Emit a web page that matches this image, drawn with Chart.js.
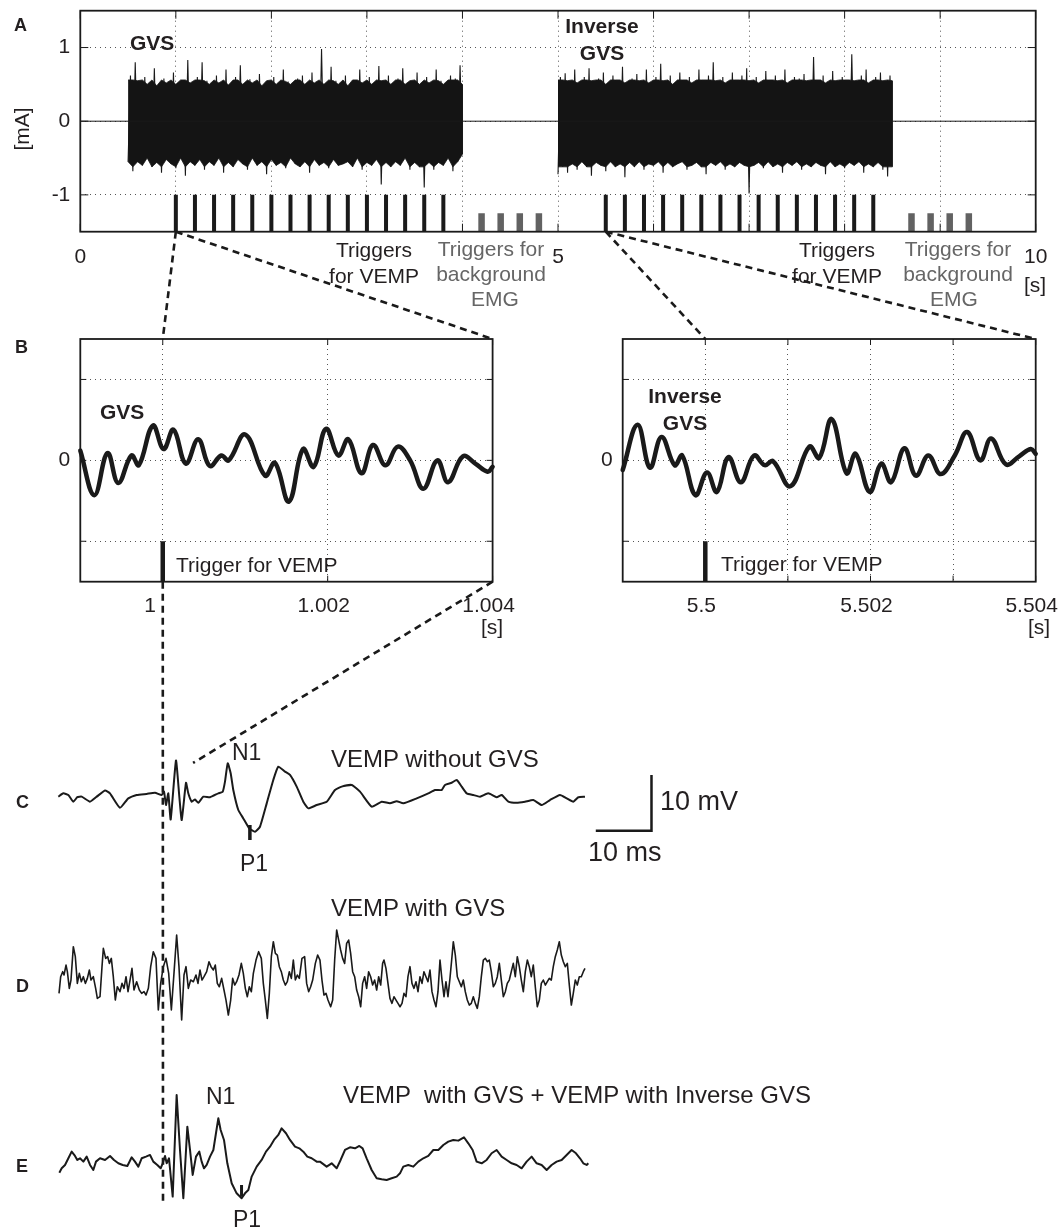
<!DOCTYPE html>
<html>
<head>
<meta charset="utf-8">
<title>GVS / VEMP</title>
<script src="https://cdn.jsdelivr.net/npm/chart.js@4.4.1/dist/chart.umd.min.js"></script>
<style>
  html, body { margin: 0; padding: 0; background: #fff; }
  body { width: 1060px; height: 1229px; position: relative; overflow: hidden; }
  canvas { position: absolute; }
  #overlay { position: absolute; left: 0; top: 0; z-index: 5; }
  #overlay text { font-family: "Liberation Sans", Arial, Helvetica, sans-serif; fill: #231f20; white-space: pre; }
  #overlay .b { font-weight: bold; }
  #overlay .grey { fill: #666; }
</style>
</head>
<body>
<canvas id="chartA" width="1060" height="300" style="left:0;top:0"></canvas>
<canvas id="chartB1" width="540" height="330" style="left:0;top:320px"></canvas>
<canvas id="chartB2" width="540" height="330" style="left:540px;top:320px"></canvas>
<canvas id="chartC" width="1060" height="200" style="left:0;top:700px"></canvas>
<canvas id="chartD" width="1060" height="200" style="left:0;top:880px"></canvas>
<canvas id="chartE" width="1060" height="229" style="left:0;top:1029px"></canvas>

<svg id="overlay" width="1060" height="1229" xmlns="http://www.w3.org/2000/svg">
  <g id="connectors"></g>
  <!-- A -->
  <text class="b" x="14" y="31" font-size="18">A</text>
  <text transform="translate(29,129) rotate(-90)" text-anchor="middle" font-size="21">[mA]</text>
  <text class="b" x="130" y="50" font-size="21">GVS</text>
  <text class="b" x="602" y="33" font-size="21" text-anchor="middle">Inverse</text>
  <text class="b" x="602" y="60" font-size="21" text-anchor="middle">GVS</text>
  <text x="374" y="257" font-size="21" text-anchor="middle">Triggers</text>
  <text x="374" y="283" font-size="21" text-anchor="middle">for VEMP</text>
  <text class="grey" x="491" y="256" font-size="21" text-anchor="middle">Triggers for</text>
  <text class="grey" x="491" y="281" font-size="21" text-anchor="middle">background</text>
  <text class="grey" x="495" y="306" font-size="21" text-anchor="middle">EMG</text>
  <text x="837" y="257" font-size="21" text-anchor="middle">Triggers</text>
  <text x="837" y="283" font-size="21" text-anchor="middle">for VEMP</text>
  <text class="grey" x="958" y="256" font-size="21" text-anchor="middle">Triggers for</text>
  <text class="grey" x="958" y="281" font-size="21" text-anchor="middle">background</text>
  <text class="grey" x="954" y="306" font-size="21" text-anchor="middle">EMG</text>
  <text x="1035" y="292" font-size="21" text-anchor="middle">[s]</text>
  <!-- B -->
  <text class="b" x="15" y="353" font-size="18">B</text>
  <text class="b" x="100" y="419" font-size="21">GVS</text>
  <text x="176" y="572" font-size="21">Trigger for VEMP</text>
  <text x="492" y="634" font-size="21" text-anchor="middle">[s]</text>
  <text class="b" x="685" y="403" font-size="21" text-anchor="middle">Inverse</text>
  <text class="b" x="685" y="430" font-size="21" text-anchor="middle">GVS</text>
  <text x="721" y="571" font-size="21">Trigger for VEMP</text>
  <text x="1039" y="634" font-size="21" text-anchor="middle">[s]</text>
  <!-- C -->
  <text class="b" x="16" y="808" font-size="18">C</text>
  <text x="232" y="760" font-size="23">N1</text>
  <text x="331" y="767" font-size="24">VEMP without GVS</text>
  <text x="660" y="810" font-size="27">10 mV</text>
  <text x="588" y="861" font-size="27">10 ms</text>
  <text x="240" y="871" font-size="23">P1</text>
  <!-- D -->
  <text class="b" x="16" y="992" font-size="18">D</text>
  <text x="331" y="916" font-size="24">VEMP with GVS</text>
  <!-- E -->
  <text class="b" x="16" y="1172" font-size="18">E</text>
  <text x="206" y="1104" font-size="23">N1</text>
  <text x="343" y="1103" font-size="24">VEMP  with GVS + VEMP with Inverse GVS</text>
  <text x="233" y="1227" font-size="23">P1</text>
</svg>

<script>
// ---- Panel A: stimulation current [mA] over time [s] ----
const aTicksX = [0, 1, 2, 3, 4, 5, 6, 7, 8, 9, 10];
const aLabelsX = [0, 5, 10];
const aTicksY = [-1, 0, 1];

// current is zero outside the stimulation windows
const baselineTime = [0, 10];
const baselineCurrent = [0, 0];

// peak envelope of the noise (samples every 0.05 s); the solid part stops at denseLimit
const denseLimit = [0.56, -0.62];
const gvsWindow = [0.5, 4.0];
const gvsUpper = [0.62, 0.80, 0.55, 0.60, 0.50, 0.72, 0.48, 0.58, 0.52, 0.66,
  0.50, 0.56, 0.83, 0.52, 0.60, 0.80, 0.55, 0.50, 0.62, 0.52,
  0.70, 0.49, 0.60, 0.76, 0.50, 0.57, 0.52, 0.64, 0.48, 0.55,
  0.60, 0.50, 0.70, 0.54, 0.50, 0.58, 0.62, 0.50, 0.66, 0.52,
  0.98, 0.50, 0.74, 0.55, 0.50, 0.62, 0.48, 0.56, 0.70, 0.52,
  0.60, 0.50, 0.75, 0.55, 0.62, 0.50, 0.58, 0.72, 0.50, 0.55,
  0.66, 0.50, 0.60, 0.52, 0.70, 0.55, 0.50, 0.62, 0.58, 0.76, 0.50];
const gvsLower = [-0.55, -0.68, -0.55, -0.60, -0.50, -0.62, -0.56, -0.70, -0.52, -0.58,
  -0.64, -0.50, -0.74, -0.55, -0.60, -0.52, -0.66, -0.55, -0.60, -0.50,
  -0.70, -0.56, -0.62, -0.52, -0.58, -0.66, -0.50, -0.60, -0.55, -0.72,
  -0.52, -0.60, -0.56, -0.64, -0.50, -0.58, -0.62, -0.55, -0.70, -0.52,
  -0.60, -0.56, -0.64, -0.52, -0.60, -0.58, -0.55, -0.62, -0.50, -0.66,
  -0.56, -0.60, -0.52, -0.86, -0.56, -0.62, -0.55, -0.60, -0.50, -0.66,
  -0.56, -0.62, -0.90, -0.56, -0.66, -0.56, -0.60, -0.50, -0.68, -0.55, -0.45];

const invWindow = [5.0, 8.5];
const invUpper = [0.60, 0.65, 0.55, 0.70, 0.52, 0.60, 0.72, 0.55, 0.58, 0.66,
  0.50, 0.62, 0.56, 0.74, 0.52, 0.58, 0.64, 0.55, 0.70, 0.52,
  0.60, 0.78, 0.55, 0.62, 0.50, 0.66, 0.56, 0.60, 0.52, 0.70,
  0.56, 0.62, 0.80, 0.55, 0.60, 0.52, 0.66, 0.56, 0.62, 0.72,
  0.55, 0.60, 0.52, 0.68, 0.56, 0.62, 0.55, 0.70, 0.52, 0.60,
  0.58, 0.64, 0.55, 0.87, 0.56, 0.62, 0.52, 0.68, 0.55, 0.60,
  0.56, 0.91, 0.55, 0.62, 0.70, 0.52, 0.60, 0.66, 0.55, 0.62, 0.55];
const invLower = [-0.72, -0.62, -0.70, -0.58, -0.66, -0.55, -0.62, -0.74, -0.56, -0.60,
  -0.68, -0.55, -0.62, -0.58, -0.76, -0.56, -0.62, -0.55, -0.66, -0.58,
  -0.60, -0.55, -0.70, -0.56, -0.62, -0.58, -0.55, -0.66, -0.60, -0.56,
  -0.62, -0.72, -0.56, -0.60, -0.55, -0.66, -0.58, -0.62, -0.56, -0.60,
  -0.98, -0.60, -0.56, -0.64, -0.55, -0.62, -0.58, -0.70, -0.56, -0.60,
  -0.55, -0.66, -0.58, -0.62, -0.56, -0.60, -0.72, -0.55, -0.62, -0.58,
  -0.64, -0.56, -0.60, -0.55, -0.70, -0.58, -0.62, -0.56, -0.66, -0.75, -0.62];

const vempTriggersGvs = [1.0, 1.2, 1.4, 1.6, 1.8, 2.0, 2.2, 2.4, 2.6, 2.8, 3.0, 3.2, 3.4, 3.6, 3.8];
const vempTriggersInv = [5.5, 5.7, 5.9, 6.1, 6.3, 6.5, 6.7, 6.9, 7.1, 7.3, 7.5, 7.7, 7.9, 8.1, 8.3];
const emgTriggersGvs = [4.2, 4.4, 4.6, 4.8];
const emgTriggersInv = [8.7, 8.9, 9.1, 9.3];
const vempTriggerTop = -1;
const emgTriggerTop = -1.25;

// ---- Panel B: 5 ms zoom around the first trigger ----
const bTicksY = [-1, 0, 1];
const bLabelsY = [0];
const b1TicksX = [1, 1.002, 1.004];
const b1LabelsX = [1, 1.002, 1.004];
const b2TicksX = [5.5, 5.501, 5.502, 5.503, 5.504];
const b2LabelsX = [5.5, 5.502, 5.504];

const gvsZoomTime = [0.99900, 0.99917, 0.99933, 0.99946, 0.99962, 0.99971, 0.99988, 1.00001, 1.00013, 1.00028,
  1.00043, 1.00057, 1.00071, 1.00080, 1.00100, 1.00124, 1.00136, 1.00153, 1.00170, 1.00183,
  1.00198, 1.00213, 1.00225, 1.00241, 1.00255, 1.00270, 1.00285, 1.00300, 1.00316, 1.00333,
  1.00346, 1.00364, 1.00379, 1.00394, 1.00400];
const gvsZoomValue = [0.12, -0.43, 0.09, -0.28, 0.06, -0.06, 0.43, 0.14, 0.38, -0.04,
  0.26, -0.07, 0.06, 0.00, 0.32, -0.19, -0.03, -0.51, 0.14, -0.08,
  0.39, 0.06, 0.26, -0.16, 0.19, -0.06, 0.17, 0.00, -0.35, 0.00,
  -0.27, 0.05, -0.04, -0.14, -0.08];

const invZoomTime = [5.49900, 5.49918, 5.49933, 5.49947, 5.49963, 5.49972, 5.49988, 5.50002, 5.50014, 5.50028,
  5.50043, 5.50059, 5.50072, 5.50082, 5.50103, 5.50126, 5.50138, 5.50153, 5.50171, 5.50182,
  5.50199, 5.50213, 5.50225, 5.50241, 5.50255, 5.50270, 5.50285, 5.50302, 5.50317, 5.50333,
  5.50346, 5.50364, 5.50380, 5.50394, 5.50400];
const invZoomValue = [-0.12, 0.44, -0.09, 0.29, -0.06, 0.06, -0.43, -0.15, -0.39, 0.04,
  -0.27, 0.06, -0.06, -0.01, -0.32, 0.17, 0.03, 0.51, -0.16, 0.08,
  -0.39, -0.04, -0.27, 0.15, -0.19, 0.06, -0.17, 0.06, 0.35, 0.00,
  0.27, -0.05, 0.05, 0.14, 0.08];

// ---- Panels C-E: averaged EMG [mV] vs time from trigger [ms] ----
const vempTime = [-18.80, -17.90, -17.00, -16.10, -15.39, -14.60, -13.11, -11.90, -10.41, -9.52,
  -7.72, -6.23, -4.72, -2.93, -1.44, -0.23, 0.18, 0.54, 0.95, 1.38,
  2.33, 2.93, 3.36, 4.13, 4.54, 5.15, 5.75, 6.34, 7.24, 8.44,
  9.93, 10.72, 11.13, 11.62, 12.15, 12.62, 13.52, 14.42, 15.49, 16.52,
  17.41, 18.62, 19.80, 20.70, 21.90, 22.80, 24.00, 25.19, 26.09, 27.59,
  29.39, 30.88, 32.08, 33.88, 35.37, 37.47, 39.26, 40.75, 41.96, 43.14,
  45.55, 47.63, 48.83, 50.04, 50.63, 51.83, 52.73, 53.63, 54.52, 55.71,
  56.91, 58.40, 59.91, 60.81, 62.00, 63.50, 64.99, 66.48, 67.99, 69.48,
  71.27, 72.48, 73.66, 74.56, 75.76];
const vempNoGvs = [-0.3, 0.3, 0, -1.2, -0.4, -0.3, -1.2, -0.3, 0.8, 0.3,
  -2.3, -0.6, 0, 0.2, 0.4, 0, 0.6, -1.8, 0.3, -4.4,
  6.2, -0.3, -4.5, 2.2, 0.3, -1.2, -0.8, -1.4, -0.3, -0.4,
  0.3, 0.6, 2.4, 5.7, 3.9, 0.9, -2.7, -4.2, -6.0, -6.6,
  -5.7, -1.5, 2.7, 5.1, 4.2, 3.6, 1.5, -1.2, -2.4, -1.8,
  -1.2, 0.9, 1.5, 1.8, 0.6, -2.1, -1.2, -1.5, -1.1, -1.5,
  -0.6, 0.3, 0.9, 0.9, 1.8, 2.2, 2.7, 1.5, 0.3, 0,
  -0.3, 0.3, -0.4, 0, -1.2, -1.4, -1.2, -0.9, -1.8, -0.9,
  0, -0.6, -1.2, -0.4, -0.3];

const gvsVempTime = [-18.67, -18.37, -18.01, -17.77, -17.41, -17.17, -16.82, -16.52, -16.10, -15.74,
  -15.38, -15.02, -14.66, -14.30, -13.94, -13.58, -13.22, -12.93, -12.51, -12.09,
  -11.79, -11.31, -10.95, -10.71, -10.29, -9.93, -9.63, -9.28, -8.92, -8.56,
  -8.20, -7.72, -7.36, -7.00, -6.64, -6.28, -5.92, -5.57, -5.21, -4.73,
  -4.25, -3.83, -3.41, -3.05, -2.63, -2.21, -1.74, -1.26, -0.84, -0.42,
  0.06, 0.54, 1.02, 1.50, 1.97, 2.45, 2.87, 3.35, 3.77, 4.13,
  4.55, 4.97, 5.45, 5.92, 6.28, 6.64, 7.00, 7.36, 7.84, 8.26,
  8.62, 9.04, 9.39, 9.75, 10.11, 10.53, 10.95, 11.31, 11.73, 12.15,
  12.51, 12.87, 13.22, 13.64, 14.06, 14.42, 14.78, 15.14, 15.50, 15.86,
  16.22, 16.70, 17.17, 17.65, 18.01, 18.37, 18.73, 19.09, 19.45, 19.81,
  20.17, 20.53, 20.88, 21.24, 21.60, 21.96, 22.32, 22.68, 23.04, 23.40,
  23.76, 24.12, 24.47, 24.95, 25.43, 25.79, 26.15, 26.51, 26.87, 27.35,
  27.77, 28.18, 28.54, 28.90, 29.26, 29.62, 30.10,
  30.46, 30.82, 31.18, 31.54, 31.89, 32.25, 32.61, 32.97, 33.33, 33.69,
  34.05, 34.41, 34.77, 35.13, 35.49, 35.84, 36.20, 36.56, 36.92, 37.28,
  37.64, 38.00, 38.36, 38.72, 39.08, 39.43, 39.67, 40.03, 40.39, 40.75,
  41.11, 41.47, 41.83, 42.19, 42.55, 42.91, 43.26, 43.62, 43.98, 44.34,
  44.70, 45.06, 45.42, 45.78, 46.14, 46.50, 46.85, 47.21, 47.57, 47.93,
  48.29, 48.65, 49.01, 49.37, 49.73, 50.09, 50.45, 50.80, 51.16, 51.52,
  51.88, 52.12, 52.48, 52.84, 53.20, 53.56, 53.92, 54.27, 54.63, 54.99,
  55.35, 55.71, 56.07, 56.43, 56.79, 57.15, 57.51, 57.87, 58.22, 58.58,
  58.94, 59.30, 59.66, 60.02, 60.38, 60.74, 61.10, 61.46, 61.81, 62.17,
  62.53, 62.89, 63.25, 63.61, 63.97, 64.33, 64.69, 65.05, 65.41, 65.76,
  66.12, 66.48, 66.84, 67.20, 67.56, 67.92, 68.28, 68.64, 69.00, 69.35,
  69.71, 70.07, 70.43, 70.79, 71.15, 71.51, 71.87, 72.23, 72.59, 72.95,
  73.31, 73.66, 74.02, 74.38, 74.74, 75.10, 75.46, 75.76];
const vempWithGvs = [-2.99, 0, 0.90, 0.30, 2.09, 0.90, -2.09, -0.60, 5.39, 3.59,
  -1.20, 0.60, -0.90, 0, -1.20, -0.30, 1.20, -0.60, 0, -2.09,
  -3.89, -3.59, 1.80, 5.09, 3.29, 3.59, 2.39, 3.29, 0, -4.19,
  -1.80, -2.69, -1.20, -2.09, 0, -2.69, -0.60, 1.50, -2.39, -0.90,
  -2.39, -2.99, -2.69, -3.29, -2.09, 1.80, 4.49, 3.29, -5.98, -1.20,
  1.80, 3.29, 0.60, -5.98, 0.60, 7.48, 1.80, -7.78, 0.30, 1.80,
  -2.09, -0.60, -0.90, 0.30, -1.20, 1.20, -0.60, 0, 0.90, 2.69,
  1.80, 1.20, 2.09, -1.20, -1.80, -0.30, -2.39, -4.19, -6.88, -4.19,
  -0.30, -1.50, -0.90, 0.30, 2.39, 0.60, -2.09, -3.59, -1.80, -2.69,
  0.60, 2.99, 4.49, 3.29, -1.20, -4.19, -7.48, -2.99, 3.59, 6.28,
  4.19, 3.89, 1.80, 0.90, -0.60, -1.50, -0.90, 0.90, -0.30, 2.99,
  -0.60, 0.30, -0.30, 3.29, 3.59, -1.20, -2.69, -1.80, -0.60, 2.39,
  3.89, 2.99, -0.60, -3.29, -2.99, -4.19, -5.39,
  -4.19, 2.99, 8.38, 6.58, 4.79, 3.29, 2.39, 5.98, 6.58, 4.19,
  0.90, 0, -2.39, -3.59, -5.39, -1.20, 0, -2.09, 0.90, 0,
  -1.50, -0.60, -2.39, 0, -1.50, 2.39, 2.99, 1.50, -1.20, -3.89,
  -4.79, -3.59, -4.19, -4.79, -5.39, -4.79, -2.99, -3.59, 0, 1.80,
  -1.20, -2.09, -0.90, -2.69, 0, -1.20, 0.90, 0, -0.90, 1.20,
  -2.69, -4.19, -5.39, -2.69, 2.99, -0.60, -3.59, -0.90, -3.59, -0.30,
  3.59, 6.28, 3.89, 0, -0.90, -1.80, -0.60, -2.69, -4.19, -5.09,
  -4.79, -3.59, -4.79, -5.68, -3.59, 0, 2.99, 3.29, 2.69, 2.99,
  0.90, -1.80, -1.20, 0, 2.39, -0.60, -3.59, -2.69, -1.20, -0.60,
  0.90, 2.39, 0, 3.59, 1.80, -0.60, -2.69, 0.90, 2.99, 1.80,
  0, 2.09, -1.80, -5.39, -4.19, -1.20, -0.60, -1.50, -0.90, -0.30,
  -0.60, 1.80, 3.59, 4.79, 6.28, 3.89, 2.69, 1.80, 2.39, -1.50,
  -5.09, -2.99, -0.60, -1.50, 0, 0, 0.90, 1.50];

const sumVempTime = [-18.61, -18.19, -17.59, -16.99, -16.40, -15.80, -15.38, -14.90, -14.30, -13.70,
  -13.10, -12.51, -12.03, -11.31, -10.41, -9.51, -8.80, -8.02, -7.24, -6.40,
  -5.62, -5.03, -4.43, -3.83, -3.05, -2.33, -1.74, -1.02, -0.42, -0.06,
  0.36, 0.66, 1.08, 1.74, 2.45, 3.05, 3.65, 4.37, 4.85, 5.33,
  5.92, 6.52, 6.94, 7.36, 7.84, 8.44, 9.04, 9.51, 9.93, 10.35,
  10.95, 11.55, 12.33, 13.22, 14.12, 14.72, 15.32, 15.92, 16.82, 17.71,
  18.49, 19.21, 19.93, 20.70, 21.30, 22.08, 22.80, 23.70, 24.47, 25.19,
  25.91, 26.69, 27.59,
  28.18, 29.38, 30.28, 31.18, 31.89, 32.67, 33.57, 34.47, 35.25, 35.84,
  36.56, 37.46, 38.36, 39.26, 40.15, 41.05, 41.95, 42.55, 43.14, 44.04,
  44.94, 45.84, 46.74, 47.63, 48.53, 49.43, 50.33, 51.22, 52.12, 53.02,
  54.03, 54.81, 55.59, 56.31, 57.21, 58.10, 59.00, 59.90, 60.80, 61.70,
  62.59, 63.49, 64.39, 65.28, 66.18, 67.08, 67.98, 68.88, 69.77, 70.67,
  71.57, 72.47, 73.36, 74.14, 74.86, 75.46, 76.06, 76.36];
const vempSum = [-1.68, -0.90, -0.30, 0.90, 2.09, 1.32, 0.60, 0.90, 0.30, 1.20,
  -0.30, -1.20, 0.30, 0.90, 0.60, 1.32, 0.60, 0, -0.30, -0.48,
  1.08, 0.30, -0.60, 0.90, 1.20, 1.50, 0.30, -0.30, -0.90, 0,
  1.32, 0, 0.90, -5.98, 12.27, 2.39, -6.28, 6.58, 2.39, -2.09,
  1.20, 2.09, 0.30, -0.90, -0.30, 1.20, 2.39, 5.39, 8.08, 5.98,
  4.19, 0, -3.59, -5.39, -6.28, -5.39, -4.79, -2.39, -0.60, 0.60,
  2.09, 2.99, 4.19, 5.09, 6.28, 5.39, 4.19, 2.99, 2.69, 2.09,
  1.20, 0.90, 0.30,
  0.30, -0.60, 0, -0.90, 0.60, 2.39, 2.87, 2.69, 3.11, 2.69,
  0.90, -1.20, -2.69, -2.87, -2.99, -2.69, -2.39, -1.80, -0.60, -0.30,
  -0.60, 0.30, 0.90, 1.32, 2.39, 2.39, 3.29, 3.89, 4.19, 4.07,
  4.67, 3.59, 2.39, 0.30, 0, 0.60, 1.80, 2.39, 1.20, 0.60,
  0, -0.30, -0.90, 0.30, 1.20, 0, -0.30, -1.20, -0.30, 0.30,
  0.60, 1.50, 2.39, 1.80, 0.90, 0, -0.30, 0];

// P1 markers: [time ms, top mV, bottom mV]
const p1MarkNoGvs = [15.6, -5.4, -8.1];
const p1MarkSum = [14.1, -3.9, -6.0];
// calibration bar: 10 ms x 10 mV
const scaleBarMs = 10;
const scaleBarMv = 10;

// ---------------------------------------------------------------
Chart.defaults.font.family = '"Liberation Sans", Arial, Helvetica, sans-serif';
Chart.defaults.font.size = 21;
Chart.defaults.color = '#231f20';
Chart.defaults.animation = false;
Chart.defaults.events = [];
Chart.defaults.plugins.legend.display = false;
Chart.defaults.plugins.tooltip.enabled = false;

const INK = '#1a1a1a';
const GRID = '#555';

function pts(xs, ys) {
    const n = Math.min(xs.length, ys.length);
    const out = [];
    for (let i = 0; i < n; i++) out.push({ x: xs[i], y: ys[i] });
    return out;
}

// envelope samples spread evenly over a stimulation window
function spread(win, ys) {
    const step = (win[1] - win[0]) / (ys.length - 1);
    return ys.map((y, i) => ({ x: win[0] + i * step, y: y }));
}

// alternate lower / upper envelope samples -> the noisy trace
function zigzag(win, up, lo) {
    const step = (win[1] - win[0]) / (up.length - 1);
    const out = [];
    up.forEach((u, i) => {
        const t = win[0] + i * step;
        out.push({ x: t, y: lo[i] });
        out.push({ x: Math.min(t + step / 2, win[1]), y: u });
    });
    return out;
}

function stems(times, top, bottom) {
    const out = [];
    times.forEach(t => {
        out.push({ x: t, y: top }, { x: t, y: bottom }, { x: t, y: null });
    });
    return out;
}

function labelFor(v, list) {
    const hit = list.find(l => Math.abs(l - v) < 1e-9);
    return hit === undefined ? '' : String(hit);
}

function lineDs(data, extra) {
    return Object.assign({
        data: data,
        borderColor: INK,
        borderWidth: 1,
        pointRadius: 0,
        fill: false,
        tension: 0,
        spanGaps: false,
        clip: false
    }, extra || {});
}

// MATLAB-like box with inward ticks
const boxPlugin = {
    id: 'matlabBox',
    afterDraw(chart, args, opts) {
        if (!opts || !opts.on) return;
        const { ctx, chartArea: a, scales } = chart;
        const len = opts.tickLen || 6;
        ctx.save();
        ctx.strokeStyle = INK;
        ctx.lineWidth = 1;
        ctx.beginPath();
        scales.x.ticks.forEach(t => {
            const x = scales.x.getPixelForValue(t.value);
            ctx.moveTo(x, a.bottom); ctx.lineTo(x, a.bottom - len);
            ctx.moveTo(x, a.top); ctx.lineTo(x, a.top + len);
        });
        scales.y.ticks.forEach(t => {
            const y = scales.y.getPixelForValue(t.value);
            ctx.moveTo(a.left, y); ctx.lineTo(a.left + len, y);
            ctx.moveTo(a.right, y); ctx.lineTo(a.right - len, y);
        });
        ctx.stroke();
        ctx.lineWidth = 1.8;
        ctx.strokeRect(a.left, a.top, a.right - a.left, a.bottom - a.top);
        ctx.restore();
    }
};

function boxedOptions(cfg) {
    const fmtX = cfg.xFormat || (s => s);
    return {
        responsive: false,
        layout: { padding: cfg.padding },
        scales: {
            x: {
                type: 'linear',
                min: cfg.xMin,
                max: cfg.xMax,
                afterFit: s => { s.height = cfg.xHeight; s.paddingLeft = 0; s.paddingRight = 0; },
                afterBuildTicks: s => { s.ticks = cfg.xTicks.map(v => ({ value: v })); },
                ticks: {
                    autoSkip: false,
                    maxRotation: 0,
                    padding: cfg.xPad,
                    labelOffset: cfg.labelOffset || 0,
                    callback: v => fmtX(labelFor(v, cfg.xLabels))
                },
                grid: { color: GRID, lineWidth: 1, drawTicks: false },
                border: { display: false, dash: [1, 4] }
            },
            y: {
                min: cfg.yMin,
                max: cfg.yMax,
                afterFit: s => { s.width = cfg.yWidth; s.paddingTop = 0; s.paddingBottom = 0; },
                afterBuildTicks: s => { s.ticks = cfg.yTicks.map(v => ({ value: v })); },
                ticks: {
                    autoSkip: false,
                    padding: 10,
                    callback: v => labelFor(v, cfg.yLabels)
                },
                grid: { color: GRID, lineWidth: 1, drawTicks: false },
                border: { display: false, dash: [1, 4] }
            }
        },
        plugins: { matlabBox: { on: true, tickLen: cfg.tickLen } }
    };
}

function traceOptions(padding) {
    return {
        responsive: false,
        layout: { padding: padding },
        scales: {
            x: { type: 'linear', display: false, min: -20, max: 100 },
            y: { display: false, min: -13, max: 13 }
        }
    };
}

// ---- A ----
const capUp = v => Math.min(v, denseLimit[0]);
const capLo = v => Math.max(v, denseLimit[1]);
const bandFill = { fill: '+1', backgroundColor: '#141414', borderWidth: 0.8 };

const chartA = new Chart(document.getElementById('chartA'), {
    type: 'line',
    data: {
        datasets: [
            lineDs(pts(baselineTime, baselineCurrent)),
            lineDs(spread(gvsWindow, gvsUpper.map(capUp)), bandFill),
            lineDs(spread(gvsWindow, gvsLower.map(capLo)), { borderWidth: 0.8 }),
            lineDs(spread(invWindow, invUpper.map(capUp)), bandFill),
            lineDs(spread(invWindow, invLower.map(capLo)), { borderWidth: 0.8 }),
            lineDs(zigzag(gvsWindow, gvsUpper, gvsLower), { borderWidth: 1.1 }),
            lineDs(zigzag(invWindow, invUpper, invLower), { borderWidth: 1.1 }),
            lineDs(stems(vempTriggersGvs, vempTriggerTop, -1.5), { borderWidth: 4, borderCapStyle: 'butt' }),
            lineDs(stems(vempTriggersInv, vempTriggerTop, -1.5), { borderWidth: 4, borderCapStyle: 'butt' }),
            lineDs(stems(emgTriggersGvs, emgTriggerTop, -1.5), { borderWidth: 6.5, borderColor: '#626262', borderCapStyle: 'butt' }),
            lineDs(stems(emgTriggersInv, emgTriggerTop, -1.5), { borderWidth: 6.5, borderColor: '#626262', borderCapStyle: 'butt' })
        ]
    },
    options: boxedOptions({
        padding: { top: 10.7, right: 24.3, left: 0, bottom: 0 },
        xMin: 0, xMax: 10, xTicks: aTicksX, xLabels: aLabelsX, xHeight: 68.3, xPad: 13,
        yMin: -1.5, yMax: 1.5, yTicks: aTicksY, yLabels: aTicksY, yWidth: 80.3, tickLen: 8
    }),
    plugins: [boxPlugin]
});

// ---- B ----
const chartB1 = new Chart(document.getElementById('chartB1'), {
    type: 'line',
    data: {
        datasets: [
            lineDs(pts(gvsZoomTime, gvsZoomValue), { borderWidth: 4.5, tension: 0.4, borderJoinStyle: 'round', borderCapStyle: 'round' }),
            lineDs(stems([vempTriggersGvs[0]], vempTriggerTop, -1.5), { borderWidth: 4.5, borderCapStyle: 'butt' })
        ]
    },
    options: boxedOptions({
        padding: { top: 19, right: 47.4, left: 0, bottom: 0 },
        xMin: 0.999, xMax: 1.004, xTicks: b1TicksX, xLabels: b1LabelsX, xHeight: 68.3, xPad: 12, labelOffset: -4,
        // the "1" label sits just left of the trigger line in the original
        xFormat: s => (s === '1' ? '1   ' : s),
        yMin: -1.5, yMax: 1.5, yTicks: bTicksY, yLabels: bLabelsY, yWidth: 80.3, tickLen: 6
    }),
    plugins: [boxPlugin]
});

const chartB2 = new Chart(document.getElementById('chartB2'), {
    type: 'line',
    data: {
        datasets: [
            lineDs(pts(invZoomTime, invZoomValue), { borderWidth: 4.5, tension: 0.4, borderJoinStyle: 'round', borderCapStyle: 'round' }),
            lineDs(stems([vempTriggersInv[0]], vempTriggerTop, -1.5), { borderWidth: 4.5, borderCapStyle: 'butt' })
        ]
    },
    options: boxedOptions({
        padding: { top: 19, right: 44.3, left: 0, bottom: 0 },
        xMin: 5.499, xMax: 5.504, xTicks: b2TicksX, xLabels: b2LabelsX, xHeight: 68.3, xPad: 12, labelOffset: -4,
        yMin: -1.5, yMax: 1.5, yTicks: bTicksY, yLabels: bLabelsY, yWidth: 82.7, tickLen: 6
    }),
    plugins: [boxPlugin]
});

// ---- C / D / E ----
const traceStyle = { borderWidth: 2, borderJoinStyle: 'round', tension: 0.15 };
const scaleCorner = [87.7, -6.4];

const chartC = new Chart(document.getElementById('chartC'), {
    type: 'line',
    data: {
        datasets: [
            lineDs(pts(vempTime, vempNoGvs), traceStyle),
            lineDs(stems([p1MarkNoGvs[0]], p1MarkNoGvs[1], p1MarkNoGvs[2]), { borderWidth: 3.5, borderCapStyle: 'butt' }),
            lineDs([
                { x: scaleCorner[0] - scaleBarMs, y: scaleCorner[1] },
                { x: scaleCorner[0], y: scaleCorner[1] },
                { x: scaleCorner[0], y: scaleCorner[1] + scaleBarMv }
            ], { borderWidth: 2.5, borderJoinStyle: 'miter', borderCapStyle: 'butt' })
        ]
    },
    options: traceOptions({ left: 51.6, right: 340, top: 22.59, bottom: 32.59 })
});

const chartD = new Chart(document.getElementById('chartD'), {
    type: 'line',
    data: { datasets: [lineDs(pts(gvsVempTime, vempWithGvs), { borderWidth: 1.6, borderJoinStyle: 'round' })] },
    options: traceOptions({ left: 51.6, right: 340, top: 24.29, bottom: 30.89 })
});

const chartE = new Chart(document.getElementById('chartE'), {
    type: 'line',
    data: {
        datasets: [
            lineDs(pts(sumVempTime, vempSum), { borderWidth: 2, borderJoinStyle: 'round' }),
            lineDs(stems([p1MarkSum[0]], p1MarkSum[1], p1MarkSum[2]), { borderWidth: 3, borderCapStyle: 'butt' })
        ]
    },
    options: traceOptions({ left: 51.6, right: 340, top: 61.89, bottom: 22.29 })
});

// ---- dashed connectors between panels, anchored to data coordinates ----
function pagePoint(chart, x, y) {
    const c = chart.canvas;
    return [c.offsetLeft + chart.scales.x.getPixelForValue(x), c.offsetTop + chart.scales.y.getPixelForValue(y)];
}

const connectors = [
    [pagePoint(chartA, vempTriggersGvs[0], -1.5), pagePoint(chartB1, 1, 1.5)],
    [pagePoint(chartA, vempTriggersGvs[0], -1.5), pagePoint(chartB1, 1.004, 1.5)],
    [pagePoint(chartA, vempTriggersInv[0], -1.5), pagePoint(chartB2, 5.5, 1.5)],
    [pagePoint(chartA, vempTriggersInv[0], -1.5), pagePoint(chartB2, 5.504, 1.5)],
    [pagePoint(chartB1, 1, -1.5), pagePoint(chartE, 0, -7.5)],
    [pagePoint(chartB1, 1.004, -1.5), pagePoint(chartC, 5.4, 5.75)]
];

const g = document.getElementById('connectors');
connectors.forEach(([p, q]) => {
    const ln = document.createElementNS('http://www.w3.org/2000/svg', 'line');
    ln.setAttribute('x1', p[0]); ln.setAttribute('y1', p[1]);
    ln.setAttribute('x2', q[0]); ln.setAttribute('y2', q[1]);
    ln.setAttribute('stroke', INK);
    ln.setAttribute('stroke-width', '2.6');
    ln.setAttribute('stroke-dasharray', '7 5');
    g.appendChild(ln);
});
</script>
</body>
</html>
